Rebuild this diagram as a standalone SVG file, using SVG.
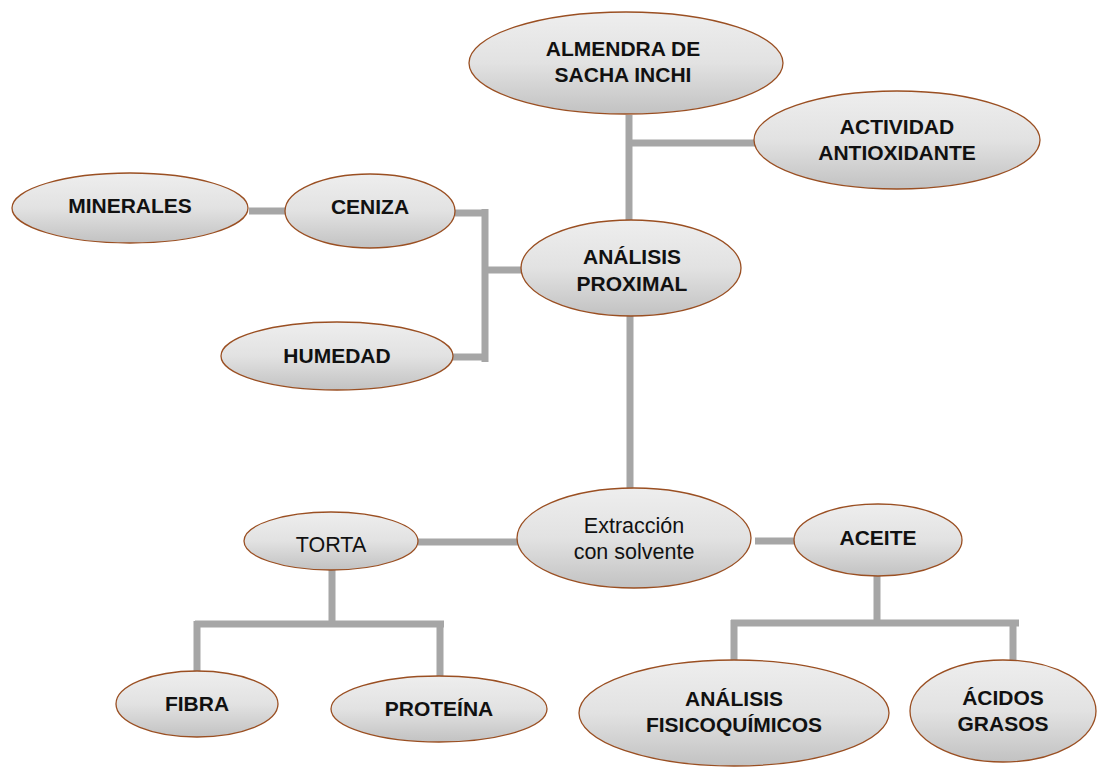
<svg xmlns="http://www.w3.org/2000/svg" width="1097" height="767" viewBox="0 0 1097 767">
<defs>
<linearGradient id="g" x1="0" y1="0" x2="0" y2="1">
<stop offset="0" stop-color="#eeeeee"/>
<stop offset="0.5" stop-color="#e2e2e2"/>
<stop offset="1" stop-color="#c2c2c2"/>
</linearGradient>
<style>
.n ellipse{fill:url(#g);stroke:#9a4f22;stroke-width:1.3}
.n text{font-family:"Liberation Sans",Arial,sans-serif;font-size:21px;font-weight:bold;fill:#111;text-anchor:middle}
.n text.r{font-weight:normal;font-size:21.5px}
.c path{fill:none;stroke:#a6a6a6;stroke-width:7;stroke-linecap:butt}
</style>
</defs>
<rect width="1097" height="767" fill="#fff"/>
<g class="c" id="connectors">
<path d="M629 115V222"/>
<path d="M629 143H756"/>
<path d="M630 315V490"/>
<path d="M455 213H488M485 209V362M453 357H488M485 270H522"/>
<path d="M249 211H290"/>
<path d="M418 542H518"/>
<path d="M755 541H797"/>
<path d="M332 570V624M195 624H444M197 621V672M440 621V677"/>
<path d="M877 576V623M731 623H1019M734 620V662M1013 620V661"/>
</g>
<g class="n" id="almendra"><ellipse cx="626" cy="63" rx="157" ry="51"/><text x="623" y="56">ALMENDRA DE</text><text x="623" y="82">SACHA INCHI</text></g>
<g class="n" id="actividad"><ellipse cx="897" cy="140" rx="143" ry="49"/><text x="897" y="134">ACTIVIDAD</text><text x="897" y="160">ANTIOXIDANTE</text></g>
<g class="n" id="minerales"><ellipse cx="130" cy="208" rx="118" ry="35"/><text x="130" y="213">MINERALES</text></g>
<g class="n" id="ceniza"><ellipse cx="370" cy="211" rx="85" ry="37"/><text x="370" y="214">CENIZA</text></g>
<g class="n" id="humedad"><ellipse cx="337" cy="356" rx="116" ry="34"/><text x="337" y="363">HUMEDAD</text></g>
<g class="n" id="analisis"><ellipse cx="631" cy="268" rx="110" ry="48"/><text x="632" y="264">ANÁLISIS</text><text x="632" y="291">PROXIMAL</text></g>
<g class="n" id="extraccion"><ellipse cx="634" cy="538" rx="117" ry="50"/><text class="r" x="634" y="533">Extracción</text><text class="r" x="634" y="559">con solvente</text></g>
<g class="n" id="aceite"><ellipse cx="878" cy="540" rx="84" ry="36"/><text x="878" y="545">ACEITE</text></g>
<g class="n" id="torta"><ellipse cx="331" cy="541" rx="87" ry="29"/><text class="r" x="331" y="552">TORTA</text></g>
<g class="n" id="fibra"><ellipse cx="197" cy="704" rx="81" ry="33"/><text x="197" y="711">FIBRA</text></g>
<g class="n" id="proteina"><ellipse cx="439" cy="709" rx="108" ry="33"/><text x="439" y="716">PROTEÍNA</text></g>
<g class="n" id="fisicoquimicos"><ellipse cx="734" cy="713" rx="155" ry="53"/><text x="734" y="706">ANÁLISIS</text><text x="734" y="732">FISICOQUÍMICOS</text></g>
<g class="n" id="acidos"><ellipse cx="1003" cy="711" rx="93" ry="51"/><text x="1003" y="705">ÁCIDOS</text><text x="1003" y="731">GRASOS</text></g>
</svg>
